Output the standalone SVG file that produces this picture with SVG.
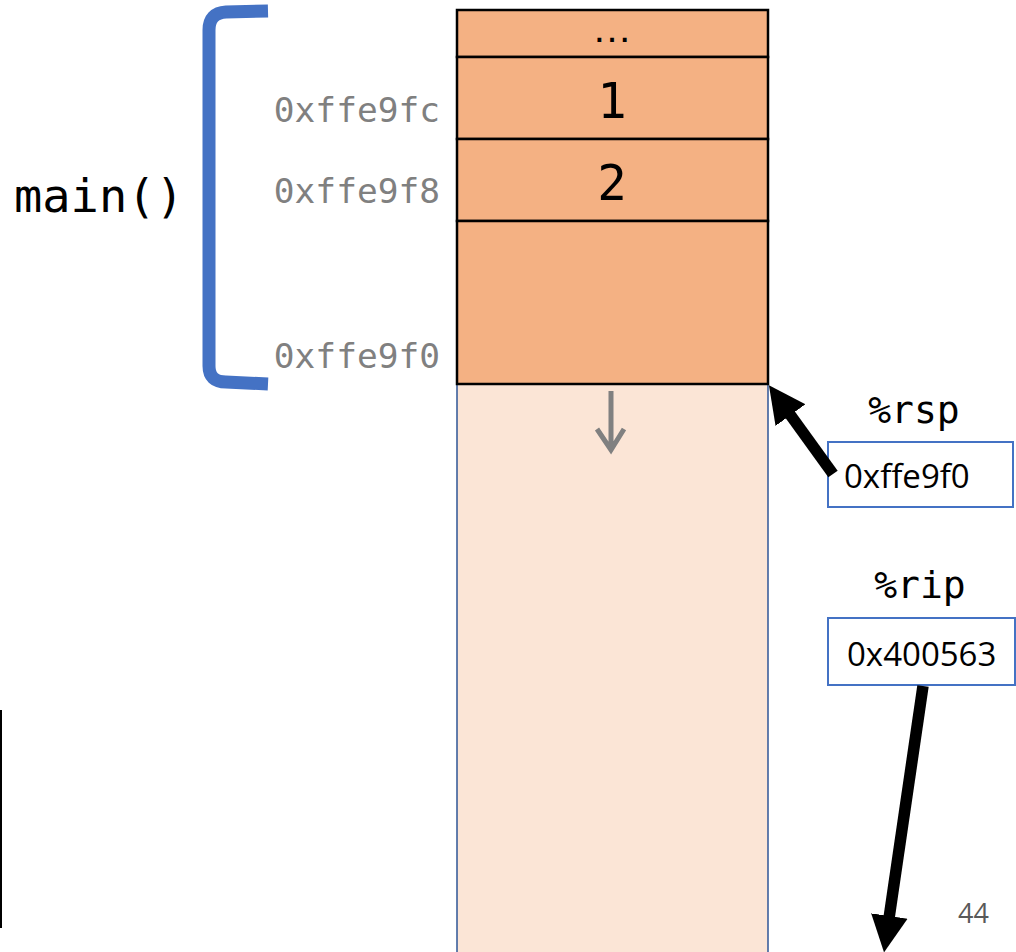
<svg xmlns="http://www.w3.org/2000/svg" width="1016" height="952" viewBox="0 0 1016 952">
  <style>
    .cell { fill: #F4B183; stroke: #000; stroke-width: 2.5; }
    .free { fill: #FBE5D6; stroke: #2F5597; stroke-width: 1.5; }
    .addr { font-family: "DejaVu Sans Mono", "Liberation Mono", monospace; font-size: 34.5px; fill: #808080; text-anchor: end; }
    .mono { font-family: "DejaVu Sans Mono", "Liberation Mono", monospace; fill: #000; }
    .val { font-family: "DejaVu Sans Mono", "Liberation Mono", monospace; font-size: 49px; fill: #000; text-anchor: middle; }
    .reg { fill: #fff; stroke: #4472C4; stroke-width: 2; }
    .regtxt { font-family: "Open Sans", "Liberation Sans", sans-serif; font-size: 33px; fill: #000; }
    .big { stroke: #000; stroke-width: 11.5; fill: none; }
  </style>
  <defs>
    <marker id="head" viewBox="0 0 10 10" refX="4.4" refY="5" markerWidth="3.2" markerHeight="3.7" markerUnits="strokeWidth" orient="auto">
      <path d="M0,0 L10,5 L0,10 z" fill="#000"/>
    </marker>
  </defs>

  <g id="free-area">
    <rect class="free" x="457" y="384" width="311" height="580"/>
  </g>

  <g id="stack">
    <rect class="cell" x="457" y="10" width="311" height="47"/>
    <text x="612" y="42" font-family="Liberation Sans, sans-serif" font-size="40" text-anchor="middle" fill="#000">…</text>
    <rect class="cell" x="457" y="57" width="311" height="82"/>
    <text class="val" x="612" y="118">1</text>
    <rect class="cell" x="457" y="139" width="311" height="82"/>
    <text class="val" x="612" y="200">2</text>
    <rect class="cell" x="457" y="221" width="311" height="163"/>
  </g>

  <g id="addresses">
    <text class="addr" x="440" y="122">0xffe9fc</text>
    <text class="addr" x="440" y="203">0xffe9f8</text>
    <text class="addr" x="440" y="368">0xffe9f0</text>
  </g>

  <g id="main-frame">
    <path d="M268,11 L226,12 Q209,13 209,30 L209,366 Q209,382 226,382 L268,384" fill="none" stroke="#4472C4" stroke-width="13"/>
    <text class="mono" x="14" y="212" font-size="47">main()</text>
  </g>

  <g id="growth-arrow">
    <path d="M611,391 L611,450 M597,429 L611,450 L624,429" fill="none" stroke="#808080" stroke-width="5" stroke-linejoin="miter"/>
  </g>

  <g id="rsp">
    <text class="mono" x="914" y="423" font-size="38" text-anchor="middle">%rsp</text>
    <rect class="reg" x="828" y="442" width="185" height="65"/>
    <text class="regtxt" x="844" y="488">0xffe9f0</text>
  </g>

  <g id="rip">
    <text class="mono" x="920" y="598" font-size="38" text-anchor="middle">%rip</text>
    <rect class="reg" x="828" y="618" width="187" height="67"/>
    <text class="regtxt" x="847" y="666">0x400563</text>
  </g>

  <g id="connectors">
    <line class="big" x1="833" y1="474" x2="781" y2="402" marker-end="url(#head)"/>
    <line class="big" x1="923" y1="686" x2="887" y2="932" marker-end="url(#head)"/>
  </g>

  <g id="page">
    <line x1="1" y1="710" x2="1" y2="928" stroke="#000" stroke-width="2"/>
    <text x="958" y="923" font-family="Open Sans, Liberation Sans, sans-serif" font-size="27" fill="#595959">44</text>
  </g>
</svg>
